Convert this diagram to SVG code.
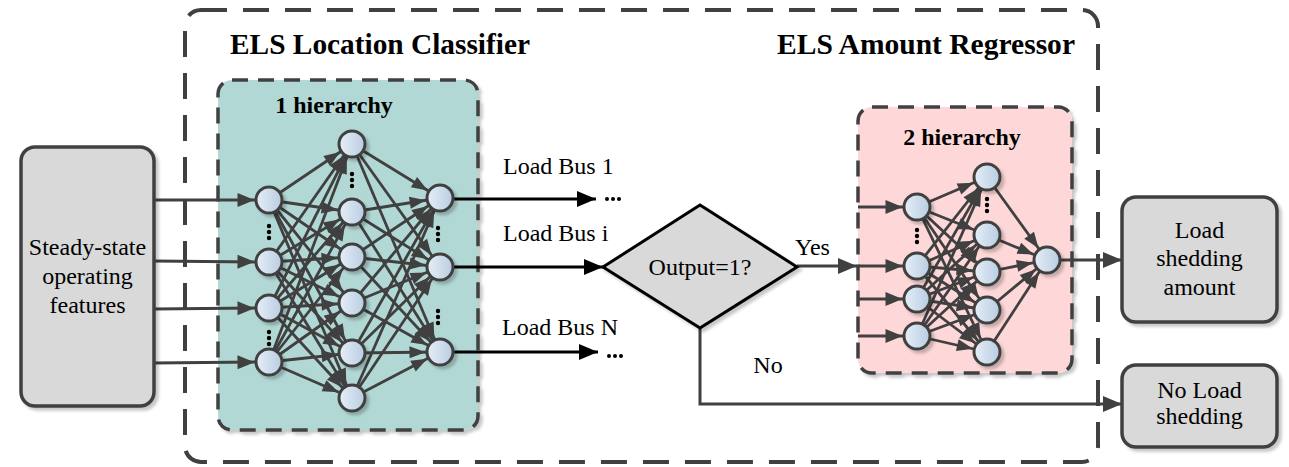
<svg xmlns="http://www.w3.org/2000/svg" width="1289" height="467" viewBox="0 0 1289 467" font-family="'Liberation Serif', 'Times New Roman', serif">
<style>
.t{font-family:"Liberation Serif","Times New Roman",serif;font-size:24px;fill:#000;}
.b{font-family:"Liberation Serif","Times New Roman",serif;font-weight:bold;fill:#000;}
.box{fill:#d9d9d9;stroke:#404040;stroke-width:3.5;}
.nn{fill:url(#ng);stroke:#404040;stroke-width:3;}
.w{stroke:#404040;stroke-width:2.8;fill:none;marker-end:url(#ah);}
.win{stroke:#404040;stroke-width:3;fill:none;marker-end:url(#ahi);}
.big{stroke:#404040;stroke-width:3;fill:none;marker-end:url(#ab);}
.bk{stroke:#000;stroke-width:3;fill:none;marker-end:url(#abk);}
.dot{fill:#000;}
</style>
<defs>
<linearGradient id="ng" x1="0" y1="0" x2="1" y2="0">
<stop offset="0" stop-color="#e6eef7"/>
<stop offset="1" stop-color="#b8cde1"/>
</linearGradient>
<filter id="sh" x="-20%" y="-20%" width="140%" height="140%">
<feDropShadow dx="3" dy="3" stdDeviation="1.5" flood-color="#000" flood-opacity="0.22"/>
</filter>
<marker id="ah" markerUnits="userSpaceOnUse" markerWidth="16" markerHeight="12" refX="30.5" refY="6" orient="auto" overflow="visible">
<path d="M0,0 L16,6 L0,12 z" fill="#404040"/>
</marker>
<marker id="ahi" markerUnits="userSpaceOnUse" markerWidth="17" markerHeight="14" refX="31.5" refY="7" orient="auto" overflow="visible">
<path d="M0,0 L17,7 L0,14 z" fill="#404040"/>
</marker>
<marker id="ab" markerUnits="userSpaceOnUse" markerWidth="19" markerHeight="16" refX="19" refY="8" orient="auto" overflow="visible">
<path d="M0,0 L19,8 L0,16 z" fill="#404040"/>
</marker>
<marker id="abk" markerUnits="userSpaceOnUse" markerWidth="19" markerHeight="16" refX="19" refY="8" orient="auto" overflow="visible">
<path d="M0,0 L19,8 L0,16 z" fill="#000"/>
</marker>
</defs>
<rect width="1289" height="467" fill="#fff"/>

<g id="outer-frame">
<rect x="185" y="10" width="913" height="452" rx="16" fill="none" stroke="#404040" stroke-width="4" stroke-dasharray="26 16"/>
<text class="b" x="230" y="54" font-size="30" textLength="300" lengthAdjust="spacingAndGlyphs">ELS Location Classifier</text>
<text class="b" x="777" y="54" font-size="30" textLength="298" lengthAdjust="spacingAndGlyphs">ELS Amount Regressor</text>
</g>

<g id="classifier-box">
<rect x="218" y="80" width="260" height="350" rx="14" fill="#b2d8d5" stroke="#404040" stroke-width="3.5" stroke-dasharray="16 10" filter="url(#sh)"/>
<text class="b" x="334" y="113" font-size="24" text-anchor="middle">1 hierarchy</text>
</g>

<g id="regressor-box">
<rect x="858" y="107" width="214" height="266" rx="14" fill="#fed8d8" stroke="#404040" stroke-width="3.5" stroke-dasharray="16 10" filter="url(#sh)"/>
<text class="b" x="962" y="145" font-size="24" text-anchor="middle">2 hierarchy</text>
</g>

<g id="connectors">
<line class="win" x1="154" y1="200" x2="269" y2="200"/>
<line class="win" x1="154" y1="261" x2="269" y2="262"/>
<line class="win" x1="154" y1="309" x2="269" y2="308"/>
<line class="win" x1="154" y1="363" x2="269" y2="362"/>
<line class="w" x1="269" y1="200" x2="352" y2="144"/><line class="w" x1="269" y1="200" x2="352" y2="212"/><line class="w" x1="269" y1="200" x2="352" y2="257"/><line class="w" x1="269" y1="200" x2="352" y2="303"/><line class="w" x1="269" y1="200" x2="352" y2="353"/><line class="w" x1="269" y1="200" x2="352" y2="398"/>
<line class="w" x1="269" y1="262" x2="352" y2="144"/><line class="w" x1="269" y1="262" x2="352" y2="212"/><line class="w" x1="269" y1="262" x2="352" y2="257"/><line class="w" x1="269" y1="262" x2="352" y2="303"/><line class="w" x1="269" y1="262" x2="352" y2="353"/><line class="w" x1="269" y1="262" x2="352" y2="398"/>
<line class="w" x1="269" y1="308" x2="352" y2="144"/><line class="w" x1="269" y1="308" x2="352" y2="212"/><line class="w" x1="269" y1="308" x2="352" y2="257"/><line class="w" x1="269" y1="308" x2="352" y2="303"/><line class="w" x1="269" y1="308" x2="352" y2="353"/><line class="w" x1="269" y1="308" x2="352" y2="398"/>
<line class="w" x1="269" y1="362" x2="352" y2="144"/><line class="w" x1="269" y1="362" x2="352" y2="212"/><line class="w" x1="269" y1="362" x2="352" y2="257"/><line class="w" x1="269" y1="362" x2="352" y2="303"/><line class="w" x1="269" y1="362" x2="352" y2="353"/><line class="w" x1="269" y1="362" x2="352" y2="398"/>
<line class="w" x1="352" y1="144" x2="440" y2="198"/><line class="w" x1="352" y1="144" x2="440" y2="267"/><line class="w" x1="352" y1="144" x2="440" y2="352"/>
<line class="w" x1="352" y1="212" x2="440" y2="198"/><line class="w" x1="352" y1="212" x2="440" y2="267"/><line class="w" x1="352" y1="212" x2="440" y2="352"/>
<line class="w" x1="352" y1="257" x2="440" y2="198"/><line class="w" x1="352" y1="257" x2="440" y2="267"/><line class="w" x1="352" y1="257" x2="440" y2="352"/>
<line class="w" x1="352" y1="303" x2="440" y2="198"/><line class="w" x1="352" y1="303" x2="440" y2="267"/><line class="w" x1="352" y1="303" x2="440" y2="352"/>
<line class="w" x1="352" y1="353" x2="440" y2="198"/><line class="w" x1="352" y1="353" x2="440" y2="267"/><line class="w" x1="352" y1="353" x2="440" y2="352"/>
<line class="w" x1="352" y1="398" x2="440" y2="198"/><line class="w" x1="352" y1="398" x2="440" y2="267"/><line class="w" x1="352" y1="398" x2="440" y2="352"/>
<line class="bk" x1="453" y1="199" x2="596" y2="199"/>
<line class="bk" x1="453" y1="267" x2="603" y2="267"/>
<line class="bk" x1="453" y1="352" x2="598" y2="352"/>
<line class="big" x1="797" y1="266" x2="857" y2="266"/>
<polyline class="big" points="700,328 700,404 1122,404"/>
<line class="win" x1="858" y1="207" x2="917" y2="207"/>
<line class="win" x1="858" y1="266" x2="917" y2="266"/>
<line class="win" x1="858" y1="299" x2="917" y2="299"/>
<line class="win" x1="858" y1="336" x2="917" y2="336"/>
<line class="w" x1="917" y1="207" x2="987" y2="177"/><line class="w" x1="917" y1="207" x2="987" y2="235"/><line class="w" x1="917" y1="207" x2="987" y2="272"/><line class="w" x1="917" y1="207" x2="987" y2="310"/><line class="w" x1="917" y1="207" x2="987" y2="352"/>
<line class="w" x1="917" y1="266" x2="987" y2="177"/><line class="w" x1="917" y1="266" x2="987" y2="235"/><line class="w" x1="917" y1="266" x2="987" y2="272"/><line class="w" x1="917" y1="266" x2="987" y2="310"/><line class="w" x1="917" y1="266" x2="987" y2="352"/>
<line class="w" x1="917" y1="299" x2="987" y2="177"/><line class="w" x1="917" y1="299" x2="987" y2="235"/><line class="w" x1="917" y1="299" x2="987" y2="272"/><line class="w" x1="917" y1="299" x2="987" y2="310"/><line class="w" x1="917" y1="299" x2="987" y2="352"/>
<line class="w" x1="917" y1="336" x2="987" y2="177"/><line class="w" x1="917" y1="336" x2="987" y2="235"/><line class="w" x1="917" y1="336" x2="987" y2="272"/><line class="w" x1="917" y1="336" x2="987" y2="310"/><line class="w" x1="917" y1="336" x2="987" y2="352"/>
<line class="w" x1="987" y1="177" x2="1047" y2="260"/><line class="w" x1="987" y1="235" x2="1047" y2="260"/><line class="w" x1="987" y1="272" x2="1047" y2="260"/><line class="w" x1="987" y1="310" x2="1047" y2="260"/><line class="w" x1="987" y1="352" x2="1047" y2="260"/>
<line class="big" x1="1060" y1="260" x2="1122" y2="260"/>
</g>

<g id="input-box">
<rect class="box" x="21" y="147" width="133" height="259" rx="14" filter="url(#sh)"/>
<text class="t" x="87.5" y="255" text-anchor="middle">Steady-state</text>
<text class="t" x="87.5" y="284" text-anchor="middle">operating</text>
<text class="t" x="87.5" y="313" text-anchor="middle">features</text>
</g>

<g id="classifier-nodes" filter="url(#sh)">
<circle class="nn" cx="269" cy="200" r="13"/><circle class="nn" cx="269" cy="262" r="13"/><circle class="nn" cx="269" cy="308" r="13"/><circle class="nn" cx="269" cy="362" r="13"/>
<circle class="nn" cx="352" cy="144" r="13"/><circle class="nn" cx="352" cy="212" r="13"/><circle class="nn" cx="352" cy="257" r="13"/><circle class="nn" cx="352" cy="303" r="13"/><circle class="nn" cx="352" cy="353" r="13"/><circle class="nn" cx="352" cy="398" r="13"/>
<circle class="nn" cx="440" cy="198" r="13"/><circle class="nn" cx="440" cy="267" r="13"/><circle class="nn" cx="440" cy="352" r="13"/>
</g>
<g id="classifier-dots">
<circle class="dot" cx="269" cy="226" r="2.2"/><circle class="dot" cx="269" cy="232" r="2.2"/><circle class="dot" cx="269" cy="238" r="2.2"/>
<circle class="dot" cx="269" cy="332" r="2.2"/><circle class="dot" cx="269" cy="338" r="2.2"/><circle class="dot" cx="269" cy="344" r="2.2"/>
<circle class="dot" cx="352" cy="174" r="2.2"/><circle class="dot" cx="352" cy="180" r="2.2"/><circle class="dot" cx="352" cy="186" r="2.2"/>
<circle class="dot" cx="438" cy="228" r="2.2"/><circle class="dot" cx="438" cy="234" r="2.2"/><circle class="dot" cx="438" cy="240" r="2.2"/>
<circle class="dot" cx="438" cy="311" r="2.2"/><circle class="dot" cx="438" cy="317" r="2.2"/><circle class="dot" cx="438" cy="323" r="2.2"/>
</g>

<g id="bus-labels">
<text class="t" x="503" y="174">Load Bus 1</text>
<circle class="dot" cx="607" cy="199" r="2"/><circle class="dot" cx="613" cy="199" r="2"/><circle class="dot" cx="619" cy="199" r="2"/>
<text class="t" x="503" y="241">Load Bus i</text>
<text class="t" x="502" y="335">Load Bus N</text>
<circle class="dot" cx="609" cy="356" r="2"/><circle class="dot" cx="615" cy="356" r="2"/><circle class="dot" cx="621" cy="356" r="2"/>
</g>

<g id="decision">
<polygon points="603,267 700,205 797,267 700,328" fill="#d9d9d9" stroke="#000" stroke-width="3" stroke-linejoin="miter" filter="url(#sh)"/>
<text class="t" x="700" y="275" text-anchor="middle">Output=1?</text>
<text class="t" x="795" y="255">Yes</text>
<text class="t" x="768" y="373" text-anchor="middle">No</text>
</g>

<g id="regressor-nodes" filter="url(#sh)">
<circle class="nn" cx="917" cy="207" r="13"/><circle class="nn" cx="917" cy="266" r="13"/><circle class="nn" cx="917" cy="299" r="13"/><circle class="nn" cx="917" cy="336" r="13"/>
<circle class="nn" cx="987" cy="177" r="13"/><circle class="nn" cx="987" cy="235" r="13"/><circle class="nn" cx="987" cy="272" r="13"/><circle class="nn" cx="987" cy="310" r="13"/><circle class="nn" cx="987" cy="352" r="13"/>
<circle class="nn" cx="1047" cy="260" r="13"/>
</g>
<g id="regressor-dots">
<circle class="dot" cx="917" cy="230" r="2.2"/><circle class="dot" cx="917" cy="236" r="2.2"/><circle class="dot" cx="917" cy="242" r="2.2"/>
<circle class="dot" cx="987" cy="199" r="2.2"/><circle class="dot" cx="987" cy="205" r="2.2"/><circle class="dot" cx="987" cy="211" r="2.2"/>
</g>

<g id="amount-box">
<rect class="box" x="1122" y="197" width="155" height="125" rx="14" filter="url(#sh)"/>
<text class="t" x="1199.5" y="238" text-anchor="middle">Load</text>
<text class="t" x="1199.5" y="266" text-anchor="middle">shedding</text>
<text class="t" x="1199.5" y="295" text-anchor="middle">amount</text>
</g>

<g id="no-shedding-box">
<rect class="box" x="1122" y="365" width="155" height="82" rx="14" filter="url(#sh)"/>
<text class="t" x="1199.5" y="398" text-anchor="middle">No Load</text>
<text class="t" x="1199.5" y="424" text-anchor="middle">shedding</text>
</g>
</svg>
